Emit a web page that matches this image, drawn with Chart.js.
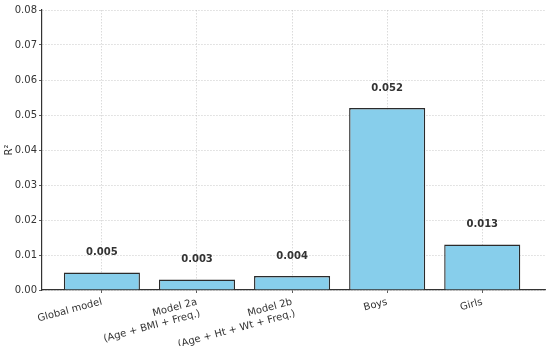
<!DOCTYPE html>
<html>
<head>
<meta charset="utf-8">
<script src="https://cdn.jsdelivr.net/npm/chart.js@4"></script>
<style>
  html, body { margin: 0; padding: 0; background: #fff; }
  #wrap { width: 550px; height: 346px; }
</style>
</head>
<body>
<div id="wrap"><canvas id="r2Chart" width="550" height="346"></canvas></div>
<script>
// データ
const categories = [
    'Global model',
    ['Model 2a', '(Age + BMI + Freq.)'],
    ['Model 2b', '(Age + Ht + Wt + Freq.)'],
    'Boys',
    'Girls'
];
const r2Values = [0.005, 0.003, 0.004, 0.052, 0.013];
const valueLabels = ['0.005', '0.003', '0.004', '0.052', '0.013'];

const fontFamily = "'DejaVu Sans', sans-serif";
const textColor = '#333';

// 棒の上に値を表示
const valueLabelPlugin = {
    id: 'valueLabels',
    afterDatasetsDraw(chart) {
        const ctx = chart.ctx;
        const meta = chart.getDatasetMeta(0);
        const yScale = chart.scales.y;
        ctx.save();
        ctx.font = 'bold 10px ' + fontFamily;
        ctx.fillStyle = textColor;
        ctx.textAlign = 'center';
        ctx.textBaseline = 'bottom';
        meta.data.forEach((bar, i) => {
            const y = yScale.getPixelForValue(r2Values[i] + 0.004) - 1;
            ctx.fillText(valueLabels[i], bar.x, y);
        });
        ctx.restore();
    }
};

const gridStyle = {
    color: 'rgba(190,190,190,0.7)',
    lineWidth: 0.8,
    tickColor: textColor,
    tickLength: 3,
    offset: false
};

new Chart(document.getElementById('r2Chart'), {
    type: 'bar',
    data: {
        datasets: [{
            data: r2Values.map((v, i) => ({ x: i, y: v })),
            backgroundColor: '#87CEEB',
            borderColor: '#2b2b2b',
            borderWidth: 1.4,
            barPercentage: 0.8,
            categoryPercentage: 1.0
        }]
    },
    options: {
        responsive: false,
        animation: false,
        devicePixelRatio: 1,
        layout: { padding: { top: 10, right: 5, left: 3, bottom: 0 } },
        plugins: {
            legend: { display: false },
            tooltip: { enabled: false }
        },
        scales: {
            x: {
                type: 'linear',
                min: -0.63,
                max: 4.66,
                offset: false,
                z: 1,
                grid: { ...gridStyle },
                border: { color: textColor, width: 1.2, dash: [1.5, 1.5] },
                ticks: {
                    stepSize: 1,
                    includeBounds: false,
                    autoSkip: false,
                    minRotation: 15,
                    maxRotation: 15,
                    color: textColor,
                    padding: 3,
                    font: { family: fontFamily, size: 10 },
                    callback: (value) => Number.isInteger(value) ? categories[value] : ''
                },
                afterFit: (scale) => { scale.height = 56; }
            },
            y: {
                min: 0,
                max: 0.08,
                z: 1,
                grid: { ...gridStyle },
                border: { color: textColor, width: 1.2, dash: [1.5, 1.5] },
                ticks: {
                    stepSize: 0.01,
                    color: textColor,
                    padding: 2,
                    font: { family: fontFamily, size: 10 },
                    callback: (value) => value.toFixed(2)
                },
                title: {
                    display: true,
                    text: 'R²',
                    color: textColor,
                    padding: { top: 0, bottom: 0 },
                    font: { family: fontFamily, size: 10 }
                },
                afterFit: (scale) => { scale.width = 39; }
            }
        }
    },
    plugins: [valueLabelPlugin]
});
</script>
</body>
</html>
